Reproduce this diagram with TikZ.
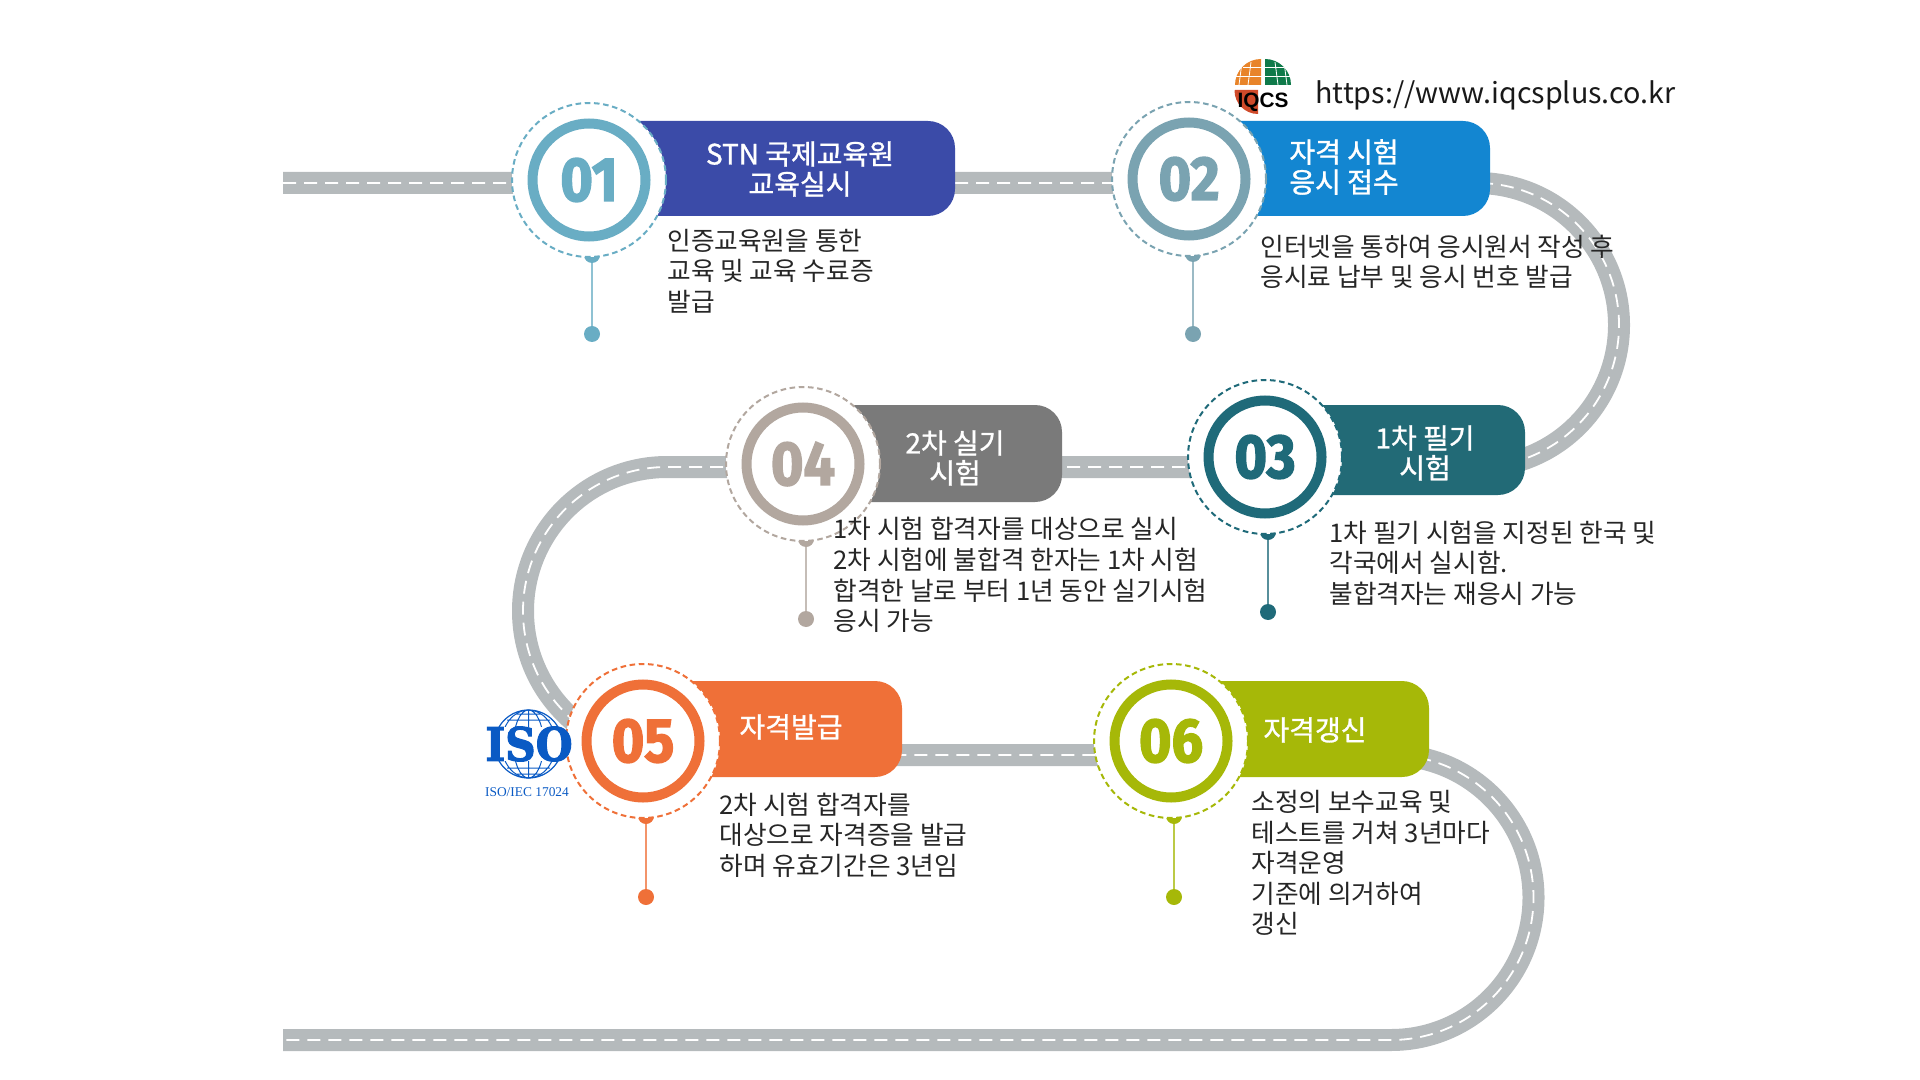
\documentclass[tikz,border=0pt]{standalone}
\usepackage{fontspec}
\setmainfont{Noto Sans CJK KR}
\newfontfamily\titlefont[FakeBold=1.1]{Noto Sans CJK KR}
\newfontfamily\numfont[BoldFeatures={FakeBold=2.5}]{Fira Sans}
\newfontfamily\isofont[BoldFeatures={FakeBold=2.5}]{DejaVu Serif}
\newfontfamily\isosmall{Liberation Serif}
\newfontfamily\iqcsfont{Liberation Sans}
\definecolor{roadgray}{HTML}{B5BABC}
\definecolor{hueA}{HTML}{69ADC4}
\definecolor{hueB}{HTML}{7AA3B1}
\definecolor{hueC}{HTML}{1F6A79}
\definecolor{hueD}{HTML}{B2A79F}
\definecolor{hueE}{HTML}{EF7038}
\definecolor{hueF}{HTML}{A6B808}
\definecolor{barA}{HTML}{3B4BA8}
\definecolor{barB}{HTML}{1386D1}
\definecolor{barC}{HTML}{226A76}
\definecolor{barD}{HTML}{7A7A7A}
\definecolor{isoblue}{HTML}{0A5AC4}
\definecolor{logoorange}{HTML}{E8842A}
\definecolor{logogreen}{HTML}{0F7A4A}
\definecolor{logored}{HTML}{CF4A2A}
\tikzset{
  halo/.style={circle,draw=#1,fill=white,dash pattern=on 2.8pt off 1.8pt,line width=1pt,minimum size=77pt,inner sep=0pt},
  ring/.style={circle,draw=#1,line width=5pt,minimum size=56.5pt,inner sep=0pt},
  num/.style={text=#1,font=\numfont\bfseries\fontsize{31}{31}\selectfont,xscale=0.9,transform shape,inner sep=0pt},
  pin/.style={circle,fill=#1,minimum size=8pt,inner sep=0pt},
  title/.style={text=white,font=\titlefont\fontsize{14}{15}\selectfont,align=center,inner sep=0pt},
  body/.style={text=black!85,font=\fontsize{12.85}{15.3}\selectfont,align=left,anchor=west,inner sep=0pt},
  gridline/.style={white,line width=0.4pt},
  globeline/.style={isoblue,line width=0.5pt},
}
\begin{document}
\begin{tikzpicture}[x=0.5pt,y=-0.5pt]
\useasboundingbox (0,0) rectangle (1920,1080);
% Carretera
\def\roadpath{(283,183) -- (1477,183) arc (-90:90:142) -- (667,467) arc (270:90:144) -- (1391,755) arc (-90:90:142.5) -- (283,1040)}
\draw[roadgray,line width=11pt] \roadpath;
\draw[white,line width=0.9pt,dash pattern=on 6.5pt off 4pt] \roadpath;

% Paradas
\foreach \id/\cx/\cy/\hue/\bar/\rt/\top/\bot/\dotx/\doty in {
  01/589/180/hueA/barA/955/121/216/592/334,
  02/1189/179/hueB/barB/1490/121/216/1193/334,
  03/1265/457/hueC/barC/1525/405/495/1268/612,
  04/803/464/hueD/barD/1062/405/502/806/619,
  05/643/741/hueE/hueE/902/681/777/646/897,
  06/1171/741/hueF/hueF/1429/681/777/1174/897} {
  \fill[\bar,rounded corners=13.5pt] (\cx,\top) rectangle (\rt,\bot);
  \node[pin=\hue] (cap\id) at (\dotx,\cy+75) {};
  \node[pin=\hue] (dot\id) at (\dotx,\doty) {};
  \draw[\hue!75!white,line width=1pt] (cap\id) -- (dot\id);
  \node[halo=\hue] (halo\id) at (\cx,\cy) {};
  \node[ring=\hue] (ring\id) at (\cx,\cy) {};
  \node[num=\hue] (num\id) at (\cx,\cy) {\id};
}

% Titulos
\node[title] (title01) at (800,169) {STN 국제교육원\\교육실시};
\node[title] (title02) at (1344,167) {자격 시험\\응시 접수};
\node[title] (title03) at (1425,453) {1차 필기\\시험};
\node[title] (title04) at (955,458) {2차 실기\\시험};
\node[title] (title05) at (791,727) {자격발급};
\node[title] (title06) at (1315,730) {자격갱신};

% Textos
\node[body] (body01) at (667,271) {인증교육원을 통한\\교육 및 교육 수료증\\발급};
\node[body] (body02) at (1260,262) {인터넷을 통하여 응시원서 작성 후\\응시료 납부 및 응시 번호 발급};
\node[body] (body03) at (1329,563) {1차 필기 시험을 지정된 한국 및\\각국에서 실시함.\\불합격자는 재응시 가능};
\node[body] (body04) at (833,575) {1차 시험 합격자를 대상으로 실시\\2차 시험에 불합격 한자는 1차 시험\\합격한 날로 부터 1년 동안 실기시험\\응시 가능};
\node[body] (body05) at (719,835) {2차 시험 합격자를\\대상으로 자격증을 발급\\하며 유효기간은 3년임};
\node[body] (body06) at (1251,863) {소정의 보수교육 및\\테스트를 거쳐 3년마다\\자격운영\\기준에 의거하여\\갱신};

% Sitio web
\node[anchor=west,inner sep=0pt,text=black!90,font=\fontsize{14.35}{16}\selectfont] (site) at (1315,95) {https://www.iqcsplus.co.kr};

% Logo IQCS
\fill[logoorange] (1261,85) -- (1235,85) arc (180:270:26) -- cycle;
\fill[logogreen] (1265,85) -- (1265,59) arc (270:360:26) -- cycle;
\fill[logored] (1235,90) -- (1258,90) -- (1258,114) arc (90:180:23.5) -- cycle;
\foreach \dx in {1242,1251} \draw[gridline] (\dx,62) -- (\dx-3,85);
\foreach \dx in {1275,1284} \draw[gridline] (\dx,62) -- (\dx+3,85);
\draw[gridline] (1236,76) -- (1291,76) (1243,67) -- (1284,67);
\node[text=black,inner sep=0pt,font=\iqcsfont\bfseries\fontsize{10.4}{10.4}\selectfont] (logotxt) at (1263,102) {IQCS};

% Logo ISO
\draw[isoblue,line width=0.6pt] (528.5,744) circle (34);
\draw[globeline] (528.5,744) ellipse (15 and 34) (528.5,744) ellipse (27 and 34) (528.5,710) -- (528.5,778)
  (507,720) -- (550,720) (507,768) -- (550,768) (515,714) -- (542,714) (515,774) -- (542,774);
\fill[white] (494,727) rectangle (563,761);
\node[text=isoblue,inner sep=0pt,xscale=0.92,transform shape,font=\isofont\bfseries\fontsize{23}{23}\selectfont] (isotxt) at (529,744) {ISO};
\node[text=isoblue,inner sep=0pt,font=\isosmall\fontsize{6.7}{7}\selectfont] (isonote) at (527,792) {ISO/IEC 17024};
\end{tikzpicture}
\end{document}
